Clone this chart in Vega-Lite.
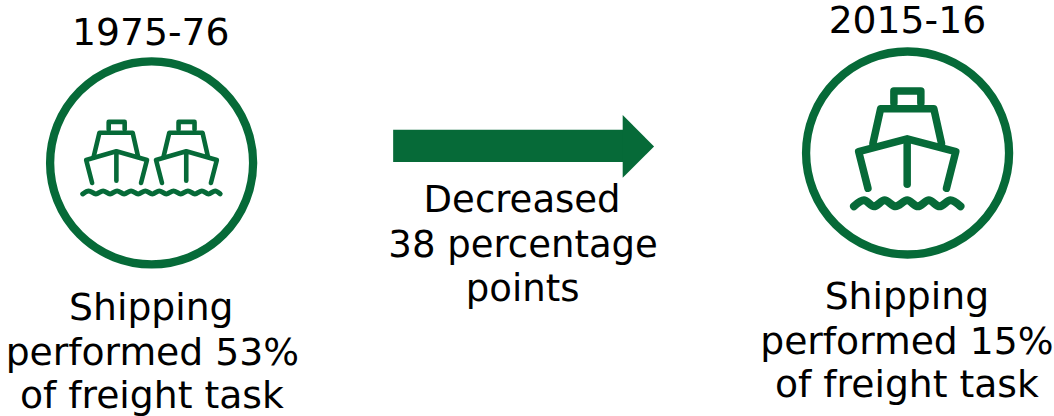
{"$schema":"https://vega.github.io/schema/vega-lite/v6.json","width":1054,"height":416,"padding":0,"autosize":{"type":"fit","contains":"padding"},"background":"white","view":{"stroke":null},
"datasets":{
"circles":[{"x":151.3,"y":163.7},{"x":908.7,"y":153.7}],
"big":[
{"p":"cabin","i":0,"x":895,"y":103.3},{"p":"cabin","i":1,"x":895,"y":91},{"p":"cabin","i":2,"x":922,"y":91},{"p":"cabin","i":3,"x":922,"y":103.3},
{"p":"super","i":0,"x":874,"y":144},{"p":"super","i":1,"x":881.7,"y":109},{"p":"super","i":2,"x":935,"y":109},{"p":"super","i":3,"x":942.7,"y":144},
{"p":"hull","i":0,"x":869,"y":189.3},{"p":"hull","i":1,"x":859.7,"y":152.3},{"p":"hull","i":2,"x":908.3,"y":139.3},{"p":"hull","i":3,"x":957,"y":152.3},{"p":"hull","i":4,"x":947.7,"y":189.3},
{"p":"keel","i":0,"x":908.3,"y":143.3},{"p":"keel","i":1,"x":908.3,"y":185.3}],
"bigWave":[{"i":0,"x":855,"y":207.5},{"i":1,"x":865,"y":201.5},{"i":2,"x":875,"y":207.5},{"i":3,"x":885.7,"y":201.5},{"i":4,"x":896.7,"y":207.5},{"i":5,"x":908.3,"y":201.5},{"i":6,"x":919,"y":207.5},{"i":7,"x":930,"y":201.5},{"i":8,"x":940.7,"y":207.5},{"i":9,"x":951.7,"y":201.5},{"i":10,"x":961.7,"y":207.5}],
"small":[
{"p":"cabin1","i":0,"x":108.3,"y":130},{"p":"cabin1","i":1,"x":108.3,"y":122.3},{"p":"cabin1","i":2,"x":124.3,"y":122.3},{"p":"cabin1","i":3,"x":124.3,"y":130},
{"p":"super1","i":0,"x":93.3,"y":157.3},{"p":"super1","i":1,"x":99,"y":133.3},{"p":"super1","i":2,"x":132.3,"y":133.3},{"p":"super1","i":3,"x":137.7,"y":157.3},
{"p":"hull1","i":0,"x":91.7,"y":184},{"p":"hull1","i":1,"x":85.7,"y":160.7},{"p":"hull1","i":2,"x":116,"y":152},{"p":"hull1","i":3,"x":146.7,"y":160.7},{"p":"hull1","i":4,"x":140.7,"y":184},
{"p":"keel1","i":0,"x":116,"y":155},{"p":"keel1","i":1,"x":116,"y":181.7},
{"p":"cabin2","i":0,"x":178.3,"y":130},{"p":"cabin2","i":1,"x":178.3,"y":122.3},{"p":"cabin2","i":2,"x":194.3,"y":122.3},{"p":"cabin2","i":3,"x":194.3,"y":130},
{"p":"super2","i":0,"x":163.3,"y":157.3},{"p":"super2","i":1,"x":169,"y":133.3},{"p":"super2","i":2,"x":202.3,"y":133.3},{"p":"super2","i":3,"x":207.7,"y":157.3},
{"p":"hull2","i":0,"x":161.7,"y":184},{"p":"hull2","i":1,"x":155.7,"y":160.7},{"p":"hull2","i":2,"x":186,"y":152},{"p":"hull2","i":3,"x":216.7,"y":160.7},{"p":"hull2","i":4,"x":210.7,"y":184},
{"p":"keel2","i":0,"x":186,"y":155},{"p":"keel2","i":1,"x":186,"y":181.7}],
"smallWave":[{"i":0,"x":82.3,"y":195},{"i":1,"x":88.3,"y":192},{"i":2,"x":95.5,"y":195},{"i":3,"x":102.7,"y":192},{"i":4,"x":109.7,"y":195},{"i":5,"x":116.7,"y":192},{"i":6,"x":123.7,"y":195},{"i":7,"x":130.7,"y":192},{"i":8,"x":137.8,"y":195},{"i":9,"x":145,"y":192},{"i":10,"x":152,"y":195},{"i":11,"x":159,"y":192},{"i":12,"x":166,"y":195},{"i":13,"x":173.3,"y":192},{"i":14,"x":180.5,"y":195},{"i":15,"x":187.7,"y":192},{"i":16,"x":194.7,"y":195},{"i":17,"x":201.7,"y":192},{"i":18,"x":208.3,"y":195},{"i":19,"x":215,"y":192},{"i":20,"x":220,"y":195}],
"shaft":[{"x":393.3,"x2":626,"y":130.3,"y2":162.7}],
"head":[{"x":623.3,"y":115.3,"y2":178.7},{"x":654.7,"y":147,"y2":147}],
"labels":[
{"t":"1975-76","x":150.5,"y":44.5},{"t":"2015-16","x":908.5,"y":32.5},
{"t":"Shipping","x":151,"y":322.5},{"t":"performed 53%","x":152,"y":367.5},{"t":"of freight task","x":151.5,"y":411.5},
{"t":"Shipping","x":908,"y":311.5},{"t":"performed 15%","x":908,"y":356.5},{"t":"of freight task","x":908,"y":400.5}],
"middle":[{"t":"Decreased","x":522.5,"y":213.5},{"t":"38 percentage","x":523.5,"y":258.5},{"t":"points","x":523,"y":303.5}]
},
"encoding":{
"x":{"field":"x","type":"quantitative","axis":null,"scale":{"domain":[-0.6,1053.4],"nice":false,"zero":false}},
"y":{"field":"y","type":"quantitative","axis":null,"scale":{"domain":[-0.8,415.2],"reverse":true,"nice":false,"zero":false}}},
"layer":[
{"data":{"name":"circles"},"mark":{"type":"point","shape":"circle","size":41209,"filled":false,"stroke":"#066a38","strokeWidth":8.3,"opacity":1}},
{"data":{"name":"big"},"mark":{"type":"line","color":"#066a38","strokeWidth":7.5,"strokeCap":"round","strokeJoin":"round"},"encoding":{"detail":{"field":"p"},"order":{"field":"i","type":"quantitative"}}},
{"data":{"name":"bigWave"},"mark":{"type":"line","color":"#066a38","strokeWidth":8,"strokeCap":"round","strokeJoin":"round","interpolate":"monotone"},"encoding":{"order":{"field":"i","type":"quantitative"}}},
{"data":{"name":"small"},"mark":{"type":"line","color":"#066a38","strokeWidth":4.6,"strokeCap":"round","strokeJoin":"round"},"encoding":{"detail":{"field":"p"},"order":{"field":"i","type":"quantitative"}}},
{"data":{"name":"smallWave"},"mark":{"type":"line","color":"#066a38","strokeWidth":5,"strokeCap":"round","strokeJoin":"round","interpolate":"monotone"},"encoding":{"order":{"field":"i","type":"quantitative"}}},
{"data":{"name":"shaft"},"mark":{"type":"rect","color":"#066a38"},"encoding":{"x2":{"field":"x2"},"y2":{"field":"y2"}}},
{"data":{"name":"head"},"mark":{"type":"area","color":"#066a38","orient":"vertical"},"encoding":{"y2":{"field":"y2"}}},
{"data":{"name":"labels"},"mark":{"type":"text","font":"DejaVu Sans","fontSize":37.7,"color":"#000000","align":"center","baseline":"alphabetic"},"encoding":{"text":{"field":"t"}}},
{"data":{"name":"middle"},"mark":{"type":"text","font":"DejaVu Sans","fontSize":37,"color":"#000000","align":"center","baseline":"alphabetic"},"encoding":{"text":{"field":"t"}}}
]}
